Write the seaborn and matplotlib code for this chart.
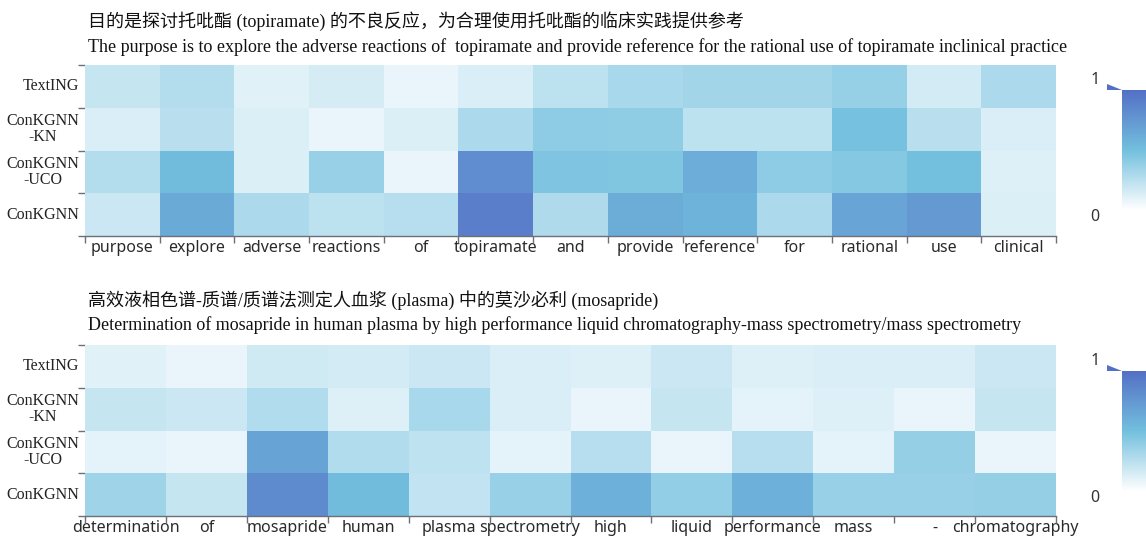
import numpy as np
import pandas as pd
import matplotlib
matplotlib.use("Agg")
import matplotlib.pyplot as plt
import seaborn as sns
from matplotlib.colors import LinearSegmentedColormap
from matplotlib.patches import Polygon

sns.set_theme(style="white")
plt.rcParams['font.family'] = ['Noto Sans', 'Noto Sans CJK SC']

models = ["TextING", "ConKGNN\n-KN", "ConKGNN\n-UCO", "ConKGNN"]

# Sentence 1: topiramate
top_title_cn = "目的是探讨托吡酯 (topiramate) 的不良反应，为合理使用托吡酯的临床实践提供参考"
top_title_en = ("The purpose is to explore the adverse reactions of  topiramate and provide "
                "reference for the rational use of topiramate inclinical practice")
top_words = ["purpose", "explore", "adverse", "reactions", "of", "topiramate", "and",
             "provide", "reference", "for", "rational", "use", "clinical"]
top_texting = [0.21, 0.27, 0.11, 0.15, 0.08, 0.14, 0.24, 0.31, 0.33, 0.33, 0.375, 0.16, 0.30]
top_kn      = [0.14, 0.25, 0.13, 0.08, 0.13, 0.30, 0.41, 0.40, 0.24, 0.24, 0.49, 0.25, 0.14]
top_uco     = [0.27, 0.53, 0.13, 0.37, 0.08, 0.82, 0.46, 0.45, 0.61, 0.41, 0.44, 0.50, 0.12]
top_full    = [0.19, 0.64, 0.30, 0.24, 0.26, 0.91, 0.29, 0.62, 0.58, 0.30, 0.67, 0.74, 0.13]

# Sentence 2: mosapride
bot_title_cn = "高效液相色谱-质谱/质谱法测定人血浆 (plasma) 中的莫沙必利 (mosapride)"
bot_title_en = ("Determination of mosapride in human plasma by high performance liquid "
                "chromatography-mass spectrometry/mass spectrometry")
bot_words = ["determination", "of", "mosapride", "human", "plasma", "spectrometry",
             "high", "liquid", "performance", "mass", "-", "chromatography"]
bot_texting = [0.11, 0.08, 0.17, 0.16, 0.19, 0.14, 0.12, 0.19, 0.12, 0.14, 0.14, 0.19]
bot_kn      = [0.21, 0.19, 0.28, 0.12, 0.31, 0.14, 0.08, 0.21, 0.10, 0.12, 0.08, 0.21]
bot_uco     = [0.10, 0.08, 0.68, 0.28, 0.23, 0.10, 0.26, 0.08, 0.26, 0.10, 0.38, 0.08]
bot_full    = [0.34, 0.21, 0.83, 0.53, 0.22, 0.37, 0.60, 0.39, 0.60, 0.37, 0.37, 0.38]

cmap = LinearSegmentedColormap.from_list("attn", ["#ffffff", "#73c0de", "#5470c6"])

W, H = 1146, 537
fig = plt.figure(figsize=(W / 100, H / 100), dpi=100)


def box(x0, y0, x1, y1):
    return [x0 / W, 1 - y1 / H, (x1 - x0) / W, (y1 - y0) / H]


AXIS_GREY = "#6e7079"
SERIF = ["Liberation Serif", "Noto Sans CJK SC"]


def draw_heatmap(rect, words, rows):
    ax = fig.add_axes(rect)
    df = pd.DataFrame(rows, index=models, columns=words)
    sns.heatmap(df, ax=ax, cmap=cmap, vmin=0, vmax=1, cbar=False, linewidths=0)
    ax.set_xlabel("")
    ax.set_ylabel("")
    ax.tick_params(which="major", length=0, bottom=False, left=False)
    ax.set_xticks(np.arange(len(words) + 1), minor=True)
    ax.set_yticks(np.arange(len(models) + 1), minor=True)
    ax.tick_params(which="minor", length=5, width=1, color=AXIS_GREY,
                   bottom=True, left=True)
    ax.set_xticklabels(words, rotation=0, fontsize=11.5, color="#2a2a2a",
                       family="Noto Sans")
    ax.set_yticklabels(models, rotation=0, fontsize=11.5, color="#222222",
                       family=SERIF, multialignment="center", linespacing=1.05)
    ax.tick_params(axis="x", which="major", pad=3)
    ax.tick_params(axis="y", which="major", pad=4)
    for name, sp in ax.spines.items():
        sp.set_visible(name == "bottom")
    ax.spines["bottom"].set_color(AXIS_GREY)
    ax.spines["bottom"].set_linewidth(1)
    return ax


def draw_scale(y0):
    cax = fig.add_axes(box(1122, y0, 1170, y0 + 120))
    grad = np.linspace(0, 1, 256)[:, None]
    cax.imshow(grad, aspect="auto", origin="lower", cmap=cmap, vmin=0, vmax=1)
    cax.set_axis_off()
    tri = Polygon([(1106.5 / W, 1 - (y0 - 6.5) / H), (1106.5 / W, 1 - y0 / H),
                   (1122 / W, 1 - y0 / H)], closed=True, transform=fig.transFigure,
                  facecolor="#5470c6", edgecolor="none")
    fig.patches.append(tri)
    fig.text(1095 / W, 1 - (y0 - 10) / H, "1", fontsize=11.5, color="#333333",
             ha="center", va="center")
    fig.text(1095 / W, 1 - (y0 + 127) / H, "0", fontsize=11.5, color="#333333",
             ha="center", va="center")


# upper panel
draw_heatmap(box(85, 65, 1056, 236), top_words,
             [top_texting, top_kn, top_uco, top_full])
fig.text(88 / W, 1 - 21 / H, top_title_cn, fontsize=13, family=SERIF,
         ha="left", va="center", color="#111111")
fig.text(88 / W, 1 - 47 / H, top_title_en, fontsize=13, family=SERIF,
         ha="left", va="center", color="#111111")
draw_scale(90)

# lower panel
draw_heatmap(box(85, 345, 1056, 516), bot_words,
             [bot_texting, bot_kn, bot_uco, bot_full])
fig.text(88 / W, 1 - 300 / H, bot_title_cn, fontsize=13, family=SERIF,
         ha="left", va="center", color="#111111")
fig.text(88 / W, 1 - 325 / H, bot_title_en, fontsize=13, family=SERIF,
         ha="left", va="center", color="#111111")
draw_scale(371)

fig.savefig("out.png", dpi=100)
